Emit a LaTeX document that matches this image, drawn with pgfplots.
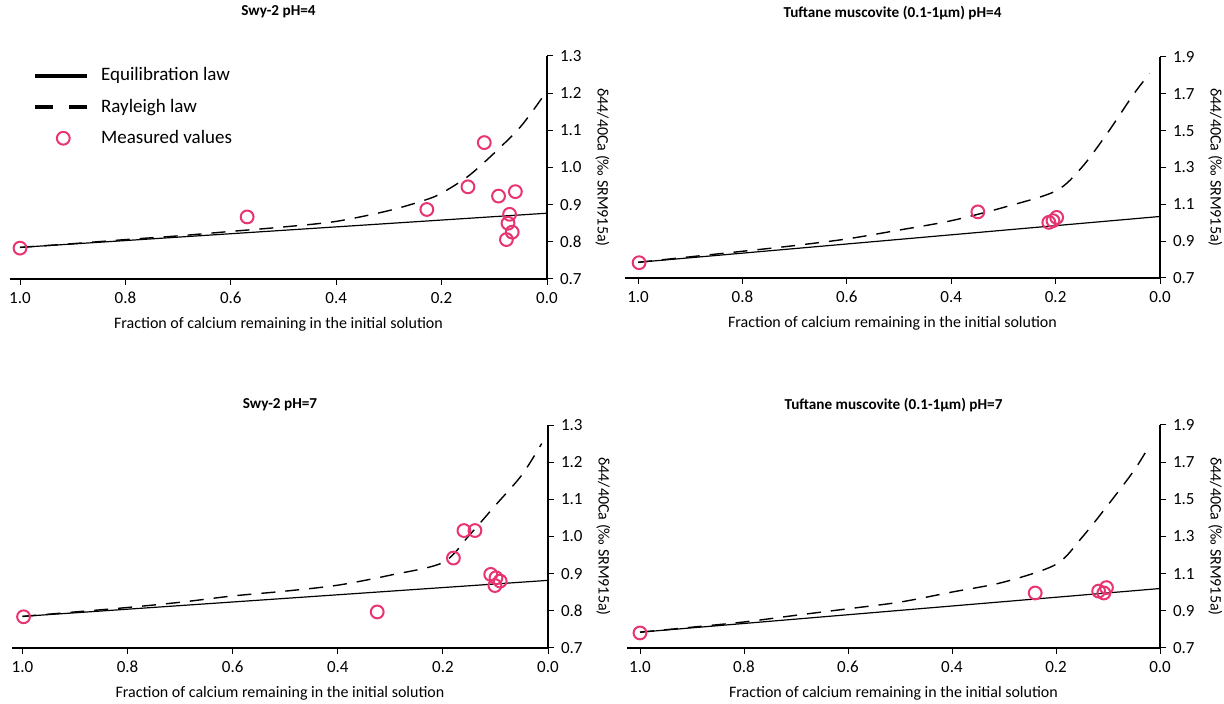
\documentclass[border=0pt]{standalone}
\usepackage{pgfplots}
\pgfplotsset{compat=1.18}
\usepackage{fontspec}
\setmainfont{Carlito}
\definecolor{mk}{RGB}{233,52,114}
\pgfplotsset{
  panel/.style={
    scale only axis,
    axis x line=bottom, axis y line=right,
    x dir=reverse, xmin=0,
    tick align=outside, tick style={black, line width=0.5pt}, major tick length=3pt,
    axis line style={black, line width=0.6pt, -},
    xtick={0,0.2,0.4,0.6,0.8,1.0},
    xticklabel style={/pgf/number format/.cd, fixed, fixed zerofill, precision=1},
    yticklabel style={/pgf/number format/.cd, fixed, fixed zerofill, precision=1},
    /pgf/number format/assume math mode=true,
    tick label style={font=\fontsize{8.5}{9}\selectfont},
    label style={font=\fontsize{8}{9}\selectfont},
    xlabel={Fraction of calcium remaining in the initial solution},
    xlabel style={yshift=0pt},
    ylabel={δ44/40Ca (‰ SRM915a)},
    ylabel style={rotate=180},
    title style={font=\bfseries\fontsize{7.6}{9}\selectfont},
    clip=false,
  },
  eq/.style={black, line width=0.6pt, no marks},
  ray/.style={black, line width=0.7pt, dash pattern=on 7pt off 5pt, no marks, smooth},
  meas/.style={only marks, mark=o, mark size=3.2pt, mark options={draw=mk, line width=1pt}},
}
\begin{document}
\begin{tikzpicture}
\useasboundingbox (0pt,0pt) rectangle (612pt,352pt);
% ---------- top left ----------
\begin{axis}[panel, at={(5pt,212.5pt)}, anchor=south west, width=268.5pt, height=111.5pt,
  xmax=1.019, ymin=0.7, ymax=1.3, ytick={0.7,0.8,...,1.3},
  title={Swy-2 pH=4}, title style={at={(0.5,1)}, anchor=center, yshift=16pt},
  legend style={draw=none, fill=none, at={(0.043,0.967)}, anchor=north west,
    font=\fontsize{9.5}{10}\selectfont, row sep=3.5pt, inner sep=0pt},
  legend cell align=left]
\addplot[eq, legend image code/.code={\draw[line width=1.8pt] (0pt,0pt) -- (26pt,0pt);}] coordinates {(1.0,0.785) (0.0,0.877)};
\addlegendentry{\hspace{4pt}Equilibration law}
\addplot[ray, legend image code/.code={\draw[line width=1.8pt, dash pattern=on 9pt off 8pt] (0pt,0pt) -- (26pt,0pt);}] coordinates {
(1.0,0.785) (0.9,0.795) (0.8,0.806) (0.7,0.816) (0.6,0.828) (0.5,0.840) (0.4,0.855) (0.3,0.884) (0.23,0.913) (0.2,0.931) (0.15,0.976) (0.1,1.039) (0.05,1.110) (0.01,1.186)};
\addlegendentry{\hspace{4pt}Rayleigh law}
\addplot[meas, legend image code/.code={\draw[draw=mk, line width=1pt] (14pt,0pt) circle (3.2pt);}] coordinates {
(1.0,0.783) (0.569,0.867) (0.228,0.887) (0.150,0.948) (0.119,1.067) (0.092,0.923) (0.060,0.935) (0.071,0.874) (0.074,0.850) (0.066,0.826) (0.077,0.806)};
\addlegendentry{\hspace{4pt}Measured values}
\end{axis}
% ---------- top right ----------
\begin{axis}[panel, at={(312.5pt,213pt)}, anchor=south west, width=267.5pt, height=110.5pt,
  xmax=1.025, ymin=0.7, ymax=1.9, ytick={0.7,0.9,...,1.9},
  title={Tuftane muscovite (0.1-1µm) pH=4}, title style={at={(0.5,1)}, anchor=center, yshift=16pt}]
\addplot[eq] coordinates {(1.0,0.785) (0.0,1.034)};
\addplot[ray] coordinates {
(1.0,0.785) (0.9,0.815) (0.8,0.845) (0.7,0.876) (0.6,0.912) (0.5,0.960) (0.4,1.011) (0.3,1.083) (0.2,1.172) (0.15,1.30) (0.1,1.49) (0.05,1.70) (0.02,1.81)};
\addplot[meas] coordinates {(0.998,0.783) (0.349,1.059) (0.213,1.002) (0.205,1.011) (0.198,1.029)};
\end{axis}
% ---------- bottom left ----------
\begin{axis}[panel, at={(6pt,28pt)}, anchor=south west, width=268pt, height=111.5pt,
  xmax=1.02, ymin=0.7, ymax=1.3, ytick={0.7,0.8,...,1.3},
  title={Swy-2 pH=7}, title style={at={(0.5,1)}, anchor=center, yshift=4pt}]
\addplot[eq] coordinates {(1.0,0.785) (0.0,0.882)};
\addplot[ray] coordinates {
(1.0,0.785) (0.9,0.797) (0.8,0.809) (0.7,0.823) (0.6,0.840) (0.5,0.853) (0.4,0.869) (0.3,0.896) (0.2,0.930) (0.15,1.003) (0.1,1.084) (0.05,1.165) (0.012,1.25)};
\addplot[meas] coordinates {(0.998,0.784) (0.325,0.797) (0.180,0.942) (0.160,1.016) (0.139,1.016) (0.109,0.898) (0.099,0.889) (0.091,0.880) (0.101,0.868)};
\end{axis}
% ---------- bottom right ----------
\begin{axis}[panel, at={(313.5pt,28pt)}, anchor=south west, width=266.5pt, height=111.5pt,
  xmax=1.025, ymin=0.7, ymax=1.9, ytick={0.7,0.9,...,1.9},
  title={Tuftane muscovite (0.1-1µm) pH=7}, title style={at={(0.5,1)}, anchor=center, yshift=4pt}]
\addplot[eq] coordinates {(1.0,0.785) (0.0,1.020)};
\addplot[ray] coordinates {
(1.0,0.785) (0.9,0.812) (0.8,0.840) (0.7,0.876) (0.6,0.911) (0.5,0.947) (0.4,1.001) (0.3,1.055) (0.2,1.150) (0.15,1.295) (0.1,1.470) (0.05,1.655) (0.02,1.79)};
\addplot[meas] coordinates {(1.0,0.781) (0.240,0.996) (0.118,1.006) (0.108,0.996) (0.103,1.025)};
\end{axis}
\end{tikzpicture}
\end{document}
